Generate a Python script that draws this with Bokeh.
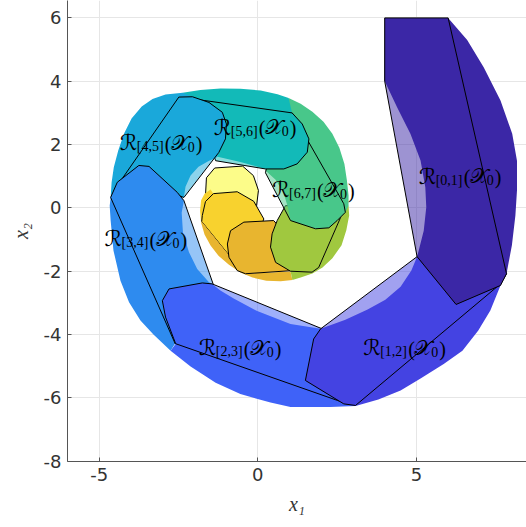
from bokeh.plotting import figure
from bokeh.models import Range1d, FixedTicker
from bokeh.embed import file_html
from bokeh.resources import INLINE
from bokeh.core.properties import value

# ---------------- data ----------------
colors = ["#3B27A6", "#4443E2", "#3F62F8", "#2E8BEF", "#1AA8DA", "#12BAB8",
          "#48C78A", "#A0C83F", "#E8B52F", "#F8D22E", "#F9FA14"]

# over-approximating flowpipe polygons R_[k,k+1](X0)
R01 = [(4.0, 6.0), (6.0, 6.0), (7.84, -2.08), (7.65, -2.45), (6.25, -3.05), (5.02, -1.54), (4.0, 4.0)]
R12 = [(5.02, -1.54), (1.98, -3.82), (1.76, -4.14), (1.50, -5.45), (2.71, -6.19), (3.08, -6.24),
       (7.65, -2.40), (7.84, -2.08), (6.70, -0.40)]
R23 = [(-2.80, -2.56), (-1.75, -2.37), (-1.44, -2.40), (2.03, -3.82), (2.82, -6.19), (-2.59, -4.29),
       (-2.91, -3.45), (-3.01, -2.93)]
R34 = [(-4.64, 0.33), (-4.43, 0.81), (-3.75, 1.34), (-3.43, 1.31), (-2.54, 0.49), (-2.33, 0.23),
       (-1.41, -2.40), (-2.60, -4.30)]
R45 = [(-2.49, 3.50), (-2.06, 3.51), (-1.54, 3.33), (-1.12, 3.02), (-0.99, 2.65), (-1.02, 2.18),
       (-1.23, 1.75), (-2.33, 0.33), (-3.38, 0.70), (-4.32, 0.86)]
R56 = [(-2.38, 3.49), (1.08, 3.00), (1.40, 2.65), (1.61, 2.18), (1.56, 1.76), (1.24, 1.39),
       (0.82, 1.23), (0.24, 1.23), (-1.33, 1.49), (-1.81, 2.91)]
R67 = [(1.08, 3.00), (2.71, 0.13), (2.76, -0.14), (2.50, -0.40), (2.24, -0.63), (1.82, -0.66),
       (1.03, -0.40), (0.24, 1.11), (0.40, 1.81)]
R78 = [(0.61, -0.40), (0.45, -0.82), (0.40, -1.24), (0.56, -1.72), (1.03, -2.00), (1.71, -2.03),
       (1.92, -1.88), (2.61, -0.30), (2.29, 0.07), (0.87, 0.07)]
R89 = [(-0.86, -0.72), (-0.44, -0.45), (0.50, -0.40), (1.19, -1.19), (1.09, -1.98), (-0.39, -2.08),
       (-0.65, -1.98), (-0.91, -1.56), (-0.96, -1.14)]
R910 = [(-1.75, -0.24), (-1.65, 0.20), (-1.40, 0.45), (-0.65, 0.51), (-0.13, 0.21), (0.19, -0.35),
        (-0.07, -1.03), (-0.80, -1.63), (-1.77, -0.43)]
R1011 = [(-1.62, 0.95), (-1.36, 1.26), (-0.48, 1.32), (-0.14, 1.02), (0.02, 0.55), (-0.04, 0.07),
         (-0.86, 0.07), (-1.65, 0.39)]
flowpipe = [R01, R12, R23, R34, R45, R56, R67, R78, R89, R910, R1011]
flowpipe_alpha = [0.5, 0.5, 0.5, 0.5, 0.5, 0.5, 0.5, 1.0, 1.0, 1.0, 0.5]

# exact reachable set pieces (smooth spiral band)
B0 = [(4.0, 6.0), (6.0, 6.0), (6.60, 5.30), (7.12, 4.44), (7.65, 3.39), (8.02, 2.34), (8.17, 1.49),
      (8.17, 0.55), (8.12, -0.24), (8.01, -1.18), (7.84, -2.08), (7.65, -2.45), (6.25, -3.05),
      (5.02, -1.54), (5.07, -1.35), (5.23, -0.72), (5.31, 0.02), (5.28, 0.65), (5.13, 1.50),
      (4.81, 2.34), (4.39, 3.18), (3.99, 4.02)]
B1 = [(7.84, -2.08), (7.65, -2.45), (7.33, -3.24), (6.95, -3.87), (6.45, -4.51), (5.86, -4.93),
      (5.13, -5.39), (4.50, -5.77), (3.80, -6.05), (3.08, -6.26), (2.71, -6.19), (1.50, -5.45),
      (1.76, -4.14), (1.98, -3.82), (2.76, -3.53), (3.46, -3.21), (4.02, -2.90), (4.50, -2.49),
      (4.84, -1.98), (5.02, -1.54)]
B2 = [(3.08, -6.26), (2.29, -6.29), (1.03, -6.29), (0.40, -6.15), (-0.55, -5.88), (-1.33, -5.52),
      (-2.12, -5.01), (-2.75, -4.51), (-2.59, -4.29), (-2.91, -3.45), (-3.01, -2.93), (-2.80, -2.56),
      (-1.75, -2.37), (-1.44, -2.40), (-1.18, -2.61), (-0.76, -2.86), (-0.02, -3.26), (1.03, -3.67),
      (1.98, -3.82)]
B3 = [(-2.75, -4.51), (-3.29, -4.00), (-3.70, -3.56), (-4.06, -2.98), (-4.33, -2.30), (-4.55, -1.35),
      (-4.64, -0.40), (-4.67, 0.07), (-4.64, 0.33), (-4.43, 0.81), (-3.75, 1.34), (-3.43, 1.31),
      (-2.54, 0.49), (-2.33, 0.23), (-2.40, -0.15), (-2.36, -0.78), (-2.17, -1.40), (-1.91, -1.93),
      (-1.54, -2.35), (-1.44, -2.40)]
B4 = [(-4.64, 0.33), (-4.61, 0.80), (-4.54, 1.28), (-4.40, 1.81), (-4.22, 2.34), (-3.98, 2.82),
      (-3.66, 3.20), (-3.32, 3.44), (-2.91, 3.58), (-2.37, 3.64), (-2.06, 3.51), (-1.54, 3.33),
      (-1.12, 3.02), (-0.99, 2.65), (-1.02, 2.18), (-1.23, 1.75), (-1.30, 1.59), (-1.55, 1.48),
      (-1.87, 1.30), (-2.12, 1.02), (-2.28, 0.67), (-2.33, 0.33)]
B5 = [(-2.37, 3.64), (-1.81, 3.72), (-1.18, 3.77), (-0.55, 3.76), (0.09, 3.71), (0.62, 3.59),
      (0.97, 3.47), (1.08, 3.00), (1.40, 2.65), (1.61, 2.18), (1.56, 1.76), (1.24, 1.39),
      (0.82, 1.23), (0.24, 1.23), (-0.55, 1.45), (-1.30, 1.62)]
B6 = [(0.97, 3.47), (1.35, 3.29), (1.72, 3.04), (2.07, 2.72), (2.35, 2.34), (2.57, 1.90), (2.73, 1.39),
      (2.81, 0.86), (2.86, 0.39), (2.86, 0.07), (2.76, -0.14), (2.50, -0.40), (2.24, -0.63),
      (1.82, -0.66), (1.03, -0.40), (0.95, 0.01), (0.81, 0.48), (0.56, 0.89), (0.24, 1.18)]
B7 = [(2.86, 0.07), (2.88, -0.24), (2.79, -0.71), (2.64, -1.18), (2.35, -1.59), (2.04, -1.88),
      (1.72, -2.07), (1.35, -2.20), (1.09, -2.28), (1.03, -2.00), (1.71, -2.03), (1.92, -1.88),
      (2.61, -0.30), (2.67, 0.07)]
B8 = [(1.09, -2.28), (0.72, -2.32), (0.27, -2.30), (-0.17, -2.20), (-0.55, -2.04), (-0.92, -1.79),
      (-1.24, -1.51), (-1.49, -1.19), (-1.68, -0.84), (-1.79, -0.46), (-1.77, -0.43), (-0.80, -1.63),
      (-0.39, -2.08), (1.03, -2.01)]
B9 = [(-1.79, -0.46), (-1.82, -0.09), (-1.79, 0.23), (-1.68, 0.45), (-1.49, 0.58), (-1.40, 0.45),
      (-1.65, 0.20), (-1.75, -0.24), (-1.77, -0.43)]
band = [B0, B1, B2, B3, B4, B5, B6, B7, B8, B9, None]

label_sub = ["[0,1]", "[1,2]", "[2,3]", "[3,4]", "[4,5]", "[5,6]", "[6,7]"]
label_x = [5.07, 3.32, -1.86, -4.83, -4.35, -1.39, 0.45]
label_y = [1.00, -4.42, -4.42, -0.97, 2.05, 2.55, 0.58]

x_ticks = [-5, 0, 5]
y_ticks = [-8, -6, -4, -2, 0, 2, 4, 6]

# ---------------- figure ----------------
p = figure(width=526, height=527, output_backend="svg", toolbar_location=None,
           x_range=Range1d(-6.0, 8.47), y_range=Range1d(-8.01, 6.55),
           min_border_left=67, min_border_right=0, min_border_top=0, min_border_bottom=66)
p.outline_line_color = None
p.background_fill_color = "white"

for k in range(len(flowpipe) - 1, -1, -1):
    if band[k] is not None:
        p.patch([q[0] for q in band[k]], [q[1] for q in band[k]],
                fill_color=colors[k], line_color=None)
    poly = flowpipe[k]
    p.patch([q[0] for q in poly], [q[1] for q in poly], fill_color=colors[k],
            fill_alpha=flowpipe_alpha[k], line_color="black", line_width=1)

n = len(label_x)
txt = dict(text_baseline="alphabetic", text_color="black")
p.text(x=label_x, y=label_y, text=["\u211B"] * n, text_font=value("DejaVu Sans"),
       text_font_size="22px", **txt)
p.text(x=label_x, y=label_y, text=label_sub, text_font=value("Liberation Serif"),
       text_font_size="14px", x_offset=17, y_offset=4, **txt)
p.text(x=label_x, y=label_y, text=["("] * n, text_font=value("Liberation Serif"),
       text_font_size="20px", x_offset=45, y_offset=1, **txt)
p.text(x=label_x, y=label_y, text=["\U0001D4B3"] * n, text_font=value("DejaVu Serif"),
       text_font_size="21px", x_offset=51, **txt)
p.text(x=label_x, y=label_y, text=["0"] * n, text_font=value("Liberation Serif"),
       text_font_size="14px", x_offset=68, y_offset=4, **txt)
p.text(x=label_x, y=label_y, text=[")"] * n, text_font=value("Liberation Serif"),
       text_font_size="20px", x_offset=76, y_offset=1, **txt)

for ax in (p.xaxis[0], p.yaxis[0]):
    ax.major_label_text_font = "DejaVu Sans"
    ax.major_label_text_font_size = "18px"
    ax.major_label_text_color = "#333333"
    ax.axis_line_color = "#555555"
    ax.major_tick_line_color = "#555555"
    ax.major_tick_in = 4
    ax.major_tick_out = 0
    ax.minor_tick_line_color = None
    ax.major_label_standoff = 6
    ax.axis_label_text_font = "Liberation Serif"
    ax.axis_label_text_font_style = "italic"
    ax.axis_label_text_font_size = "20px"
    ax.axis_label_text_color = "#333333"

p.xaxis[0].axis_label_standoff = 9
p.yaxis[0].axis_label_standoff = 9
p.xaxis[0].ticker = FixedTicker(ticks=x_ticks)
p.yaxis[0].ticker = FixedTicker(ticks=y_ticks)
p.xaxis[0].major_label_overrides = {t: str(t) for t in x_ticks}
p.yaxis[0].major_label_overrides = {t: str(t) for t in y_ticks}
p.xaxis[0].axis_label = "x\u2081"
p.yaxis[0].axis_label = "x\u2082"
p.grid.grid_line_color = "#e6e6e6"
p.grid.grid_line_width = 1

open("out.html", "w").write(file_html(p, INLINE))
